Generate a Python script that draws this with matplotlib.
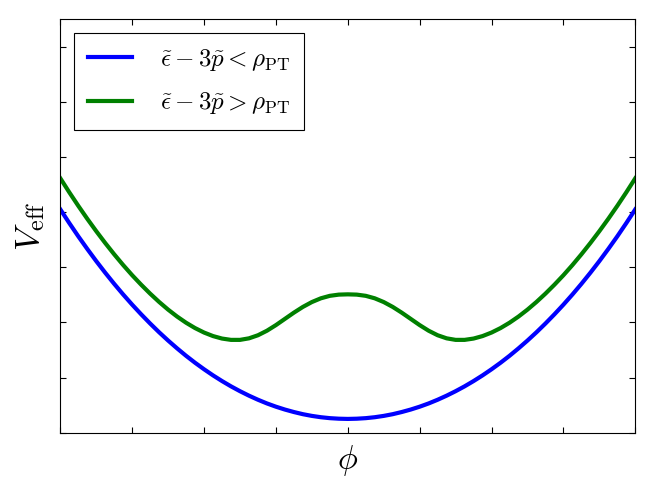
import matplotlib
matplotlib.use("Agg")
import matplotlib.pyplot as plt

plt.rcParams['mathtext.fontset'] = 'cm'
plt.rcParams['font.family'] = 'serif'
plt.rcParams['font.serif'] = ['DejaVu Serif']

# phi >= 0 half (the curves are symmetric)
phi_half = [0.0, 0.125, 0.25, 0.375, 0.5, 0.625, 0.75, 0.875, 1.0, 1.125, 1.25,
            1.375, 1.5, 1.625, 1.75, 1.875, 2.0, 2.125, 2.25, 2.375, 2.5, 2.625,
            2.75, 2.875, 3.0, 3.125, 3.25, 3.375, 3.5, 3.625, 3.75, 3.875, 4.0]

# below the phase transition (blue)
v_below_half = [0.250, 0.254, 0.264, 0.281, 0.305, 0.336, 0.375, 0.420, 0.472,
                0.531, 0.598, 0.672, 0.753, 0.841, 0.937, 1.040, 1.151, 1.269,
                1.395, 1.530, 1.672, 1.822, 1.981, 2.148, 2.323, 2.507, 2.700,
                2.902, 3.113, 3.334, 3.563, 3.803, 4.052]

# above the phase transition (green)
v_above_half = [2.510, 2.505, 2.483, 2.438, 2.370, 2.282, 2.178, 2.065, 1.952,
                1.850, 1.768, 1.712, 1.684, 1.684, 1.708, 1.753, 1.817, 1.898,
                1.995, 2.107, 2.233, 2.372, 2.523, 2.685, 2.857, 3.041, 3.236,
                3.441, 3.656, 3.881, 4.116, 4.361, 4.616]

labels = [r'$\tilde{\epsilon}-3\tilde{p}<\rho_{\rm PT}$',
          r'$\tilde{\epsilon}-3\tilde{p}>\rho_{\rm PT}$']

# mirror to the full range
phi = [-p for p in phi_half[:0:-1]] + phi_half
v_below = v_below_half[:0:-1] + v_below_half
v_above = v_above_half[:0:-1] + v_above_half

fig = plt.figure(figsize=(6.54, 4.93), dpi=100)
ax = fig.add_axes([0.0922, 0.1223, 0.8792, 0.8386])

ax.plot(phi, v_below, color='b', lw=3, label=labels[0])
ax.plot(phi, v_above, color='g', lw=3, label=labels[1])

ax.set_xlim(-4, 4)
ax.set_ylim(0, 7.5)
ax.set_xticks(range(-4, 5))
ax.set_yticks(range(0, 8))
ax.set_xticklabels([])
ax.set_yticklabels([])
ax.tick_params(direction='in', top=True, right=True, length=4, width=0.8)

ax.set_xlabel(r'$\phi$', fontsize=24, labelpad=4)
ax.set_ylabel(r'$V_{\rm eff}$', fontsize=25, labelpad=6)

leg = ax.legend(loc='upper left', fontsize=18, fancybox=False, framealpha=1,
                edgecolor='black', handlelength=1.75, borderpad=0.55,
                labelspacing=0.7, handletextpad=1.15, borderaxespad=0.55)
leg.get_frame().set_linewidth(0.8)

fig.savefig('out.png', dpi=100, facecolor='white')
